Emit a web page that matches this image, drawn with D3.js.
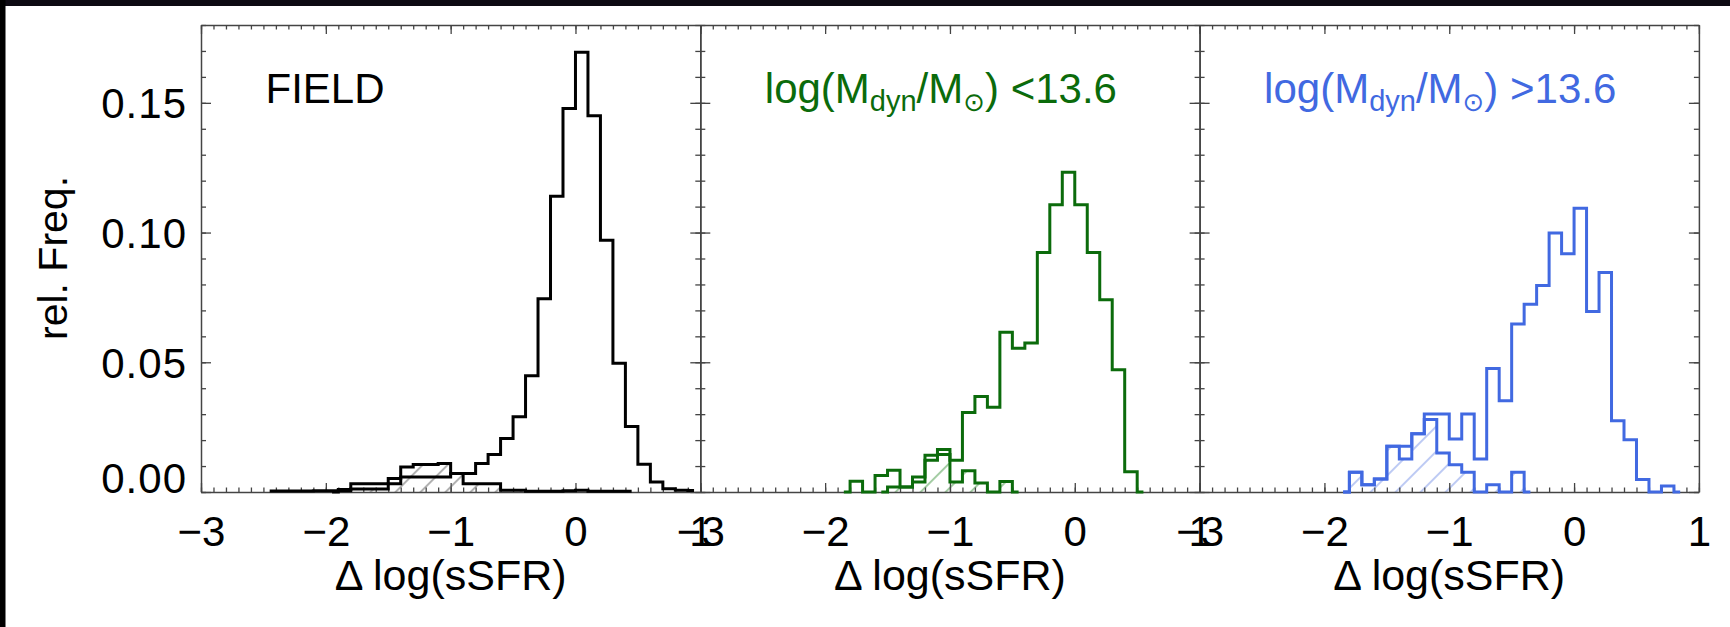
<!DOCTYPE html>
<html lang="en">
  <head>
    <meta charset="UTF-8">
    <title>Delta log(sSFR) histograms</title>
    <script src="https://cdn.jsdelivr.net/npm/d3@7"></script>
    <style>
      body { margin: 0; background: #fff; }
      svg text { font-family: "Liberation Sans", Arial, Helvetica, sans-serif; fill: #000; }
      .frame .domain { stroke: #444; stroke-width: 1.5; }
      .frame .tick line { stroke: #444; stroke-width: 1.3; }
      .hist { fill: none; stroke-width: 3; stroke-linejoin: miter; }
    </style>
  </head>
  <body>
    <svg id="chart"></svg>

    <script>
      // histogram bins are 0.1 wide; each series lists the bin values from its first bin centre
      var binWidth = 0.1;
      var xTicks = [-3, -2, -1, 0, 1];
      var yTicks = [0, 0.05, 0.10, 0.15];

      var fieldAllStart = -2.45;
      var fieldAll = [0.0004, 0.0004, 0.0004, 0.0004, 0.0005, 0.0005, 0.0010, 0.0032, 0.0032, 0.0032,
                      0.0052, 0.0058, 0.0058, 0.0058, 0.0058, 0.0071, 0.0071, 0.0110, 0.0145, 0.0206,
                      0.0290, 0.0448, 0.0745, 0.1140, 0.1478, 0.1695, 0.1450, 0.0970, 0.0496, 0.0252,
                      0.0107, 0.0039, 0.0013, 0.0007, 0.0006];
      var fieldSubStart = -1.95;
      var fieldSub = [0, 0.0005, 0.0012, 0.0012, 0.0012, 0.0032, 0.0096, 0.0106, 0.0106, 0.0110,
                      0.0071, 0.0032, 0.0032, 0.0032, 0.0007, 0.0007, 0.0003, 0.0003, 0.0003, 0.0005,
                      0.0007, 0.0003, 0.0003, 0.0003, 0.0003];

      var lowAllStart = -1.85;
      var lowAll = [0, 0.0041, 0, 0.0064, 0.0084, 0.0019, 0.0058, 0.0142, 0.0164, 0.0122,
                    0.0306, 0.0368, 0.0327, 0.0616, 0.0554, 0.0574, 0.0923, 0.1107, 0.1232, 0.1107,
                    0.0923, 0.0741, 0.0471, 0.0078, 0];
      var lowSubStart = -1.55;
      var lowSub = [0, 0.0019, 0.0019, 0.0039, 0.0122, 0.0145, 0.0039, 0.0082, 0.0035, 0, 0.0040, 0];

      var highAllStart = -1.85;
      var highAll = [0, 0.0076, 0.0028, 0.0050, 0.0176, 0.0176, 0.0225, 0.0301, 0.0301, 0.0204,
                     0.0301, 0.0127, 0.0476, 0.0352, 0.0648, 0.0724, 0.0796, 0.0998, 0.0918, 0.1094,
                     0.0696, 0.0846, 0.0275, 0.0201, 0.0048, 0, 0.0023, 0];
      var highSubStart = -1.85;
      var highSub = [0, 0.0076, 0.0028, 0.0050, 0.0176, 0.0127, 0.0225, 0.0279, 0.0150, 0.0105,
                     0.0076, 0, 0.0028, 0, 0.0076, 0];

      var panels = [
        { title: "FIELD", all: fieldAll, allStart: fieldAllStart, sub: fieldSub, subStart: fieldSubStart,
          color: "#000", hatch: "#666" },
        { title: "<", all: lowAll, allStart: lowAllStart, sub: lowSub, subStart: lowSubStart,
          color: "#0b6b0b", hatch: "#4c9c4c" },
        { title: ">", all: highAll, allStart: highAllStart, sub: highSub, subStart: highSubStart,
          color: "#4169e1", hatch: "#7e97ea" }
      ];

      var width = 1730, height = 627;
      var svg = d3.select("#chart").attr("width", width).attr("height", height);

      svg.append("rect").attr("width", width).attr("height", height).attr("fill", "#fff");
      svg.append("rect").attr("width", width).attr("height", 6).attr("fill", "#0d0a12");
      svg.append("rect").attr("width", 5.5).attr("height", height).attr("fill", "#000");

      var defs = svg.append("defs");

      var plotLeft = 201, panelWidth = 499.3;
      var y = d3.scaleLinear().domain([0, 0.18]).range([492, 25]);

      function bins(start, values) {
        return values.map(function(v, i) { return [start + i * binWidth, v]; });
      }

      function massTitle(text, op) {
        text.append("tspan").text("log(M");
        text.append("tspan").attr("dy", 8).attr("font-size", 29).text("dyn");
        text.append("tspan").attr("dy", -8).text("/M");
        text.append("tspan").attr("dy", 8).attr("font-size", 26)
            .style("font-family", "'DejaVu Sans'").text("\u2299");
        text.append("tspan").attr("dy", -8).text(") " + op + "13.6");
      }

      panels.forEach(function(p, i) {
        var left = plotLeft + i * panelWidth;
        var x = d3.scaleLinear().domain([-3, 1]).range([left, left + panelWidth]);
        var g = svg.append("g");

        var pat = defs.append("pattern")
            .attr("id", "hatch" + i)
            .attr("patternUnits", "userSpaceOnUse")
            .attr("width", 17.68).attr("height", 10)
            .attr("patternTransform", "rotate(45)");
        pat.append("line")
            .attr("x1", 8.84).attr("x2", 8.84).attr("y1", 0).attr("y2", 10)
            .attr("stroke", p.hatch).attr("stroke-width", 1);

        var area = d3.area()
            .x(function(d) { return x(d[0]); })
            .y0(y(0))
            .y1(function(d) { return y(d[1]); })
            .curve(d3.curveStep);

        var line = d3.line()
            .x(function(d) { return x(d[0]); })
            .y(function(d) { return y(d[1]); })
            .curve(d3.curveStep);

        g.append("path")
            .attr("d", area(bins(p.subStart, p.sub)))
            .attr("fill", "url(#hatch" + i + ")");

        // frame with inward ticks
        var minorX = d3.range(-30, 11).map(function(k) { return k / 10; });
        var minorY = d3.range(0, 19).map(function(k) { return k / 100; });

        function frame(axis, tx, ty, size, values, labels) {
          var a = g.append("g").attr("class", "frame")
              .attr("transform", "translate(" + tx + "," + ty + ")")
              .call(axis.tickValues(values).tickSize(-size).tickSizeOuter(0)
                .tickFormat(labels ? labels : ""));
          return a;
        }

        var fmtX = d3.format("d");
        var bottom = frame(d3.axisBottom(x).tickPadding(24), 0, y(0), 9, xTicks, fmtX);
        bottom.selectAll("text").attr("font-size", 42).attr("fill", "#000");
        frame(d3.axisBottom(x), 0, y(0), 4.5, minorX).select(".domain").remove();
        frame(d3.axisTop(x), 0, y.range()[1], 9, xTicks);
        frame(d3.axisTop(x), 0, y.range()[1], 4.5, minorX).select(".domain").remove();

        if (i === 0) {
          var leftAx = frame(d3.axisLeft(y).tickPadding(14), left, 0, 10, yTicks, d3.format(".2f"));
          leftAx.selectAll("text")
              .attr("font-size", 42).attr("fill", "#000")
              .attr("letter-spacing", 1)
              .attr("dy", function(d) { return d === 0 ? "0.02em" : "0.36em"; });
        } else {
          frame(d3.axisLeft(y), left, 0, 10, yTicks);
        }
        frame(d3.axisLeft(y), left, 0, 5, minorY).select(".domain").remove();
        frame(d3.axisRight(y), left + panelWidth, 0, 10, yTicks);
        frame(d3.axisRight(y), left + panelWidth, 0, 5, minorY).select(".domain").remove();

        g.append("path")
            .attr("class", "hist")
            .attr("d", line(bins(p.subStart, p.sub)))
            .attr("stroke", p.color);
        g.append("path")
            .attr("class", "hist")
            .attr("d", line(bins(p.allStart, p.all)))
            .attr("stroke", p.color);

        var title = g.append("text")
            .attr("x", left + 64.5).attr("y", 103)
            .attr("font-size", 42)
            .style("fill", p.color);
        if (p.title === "FIELD") title.text("FIELD");
        else massTitle(title, p.title);

        g.append("text")
            .attr("x", left + panelWidth / 2).attr("y", 590)
            .attr("text-anchor", "middle")
            .attr("font-size", 43)
            .text("\u0394 log(sSFR)");
      });

      svg.append("text")
          .attr("transform", "translate(67,258) rotate(-90)")
          .attr("text-anchor", "middle")
          .attr("font-size", 41)
          .text("rel. Freq.");
    </script>
  </body>
</html>
